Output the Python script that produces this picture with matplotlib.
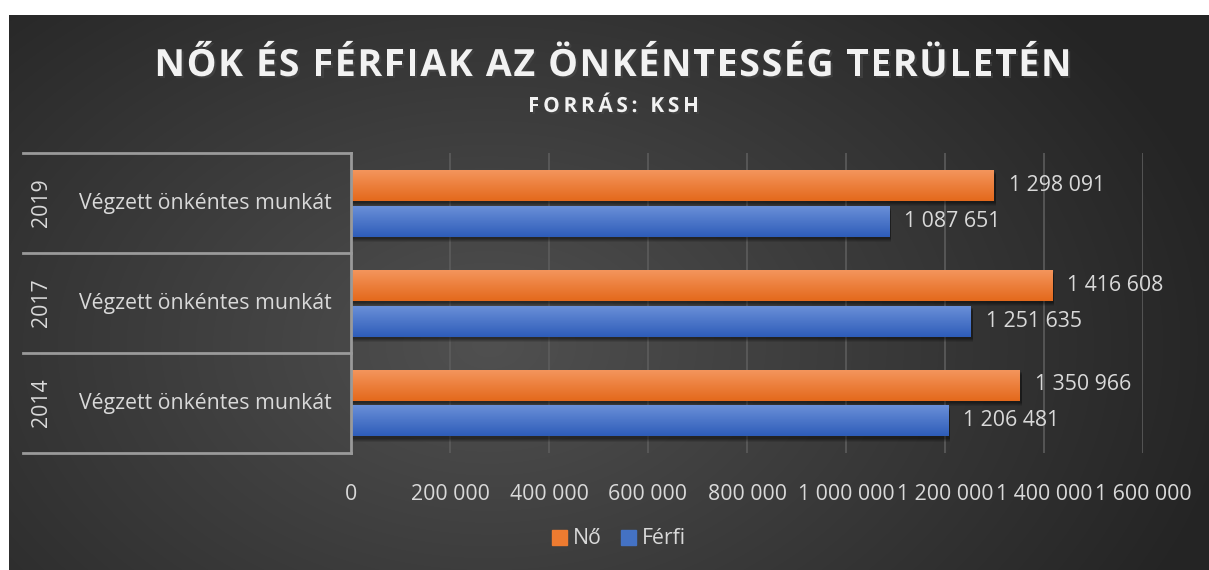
import numpy as np
import matplotlib
matplotlib.use("Agg")
import matplotlib.pyplot as plt
import matplotlib.patheffects as pe
from matplotlib.font_manager import FontProperties
from matplotlib.lines import Line2D
from matplotlib.patches import Patch

# data (bottom to top)
years = ["2014", "2017", "2019"]
category = "Végzett önkéntes munkát"
no_values = [1350966, 1416608, 1298091]
ferfi_values = [1206481, 1251635, 1087651]
series_names = ["Nő", "Férfi"]
xticks = [0, 200000, 400000, 600000, 800000, 1000000, 1200000, 1400000, 1600000]

W, H = 1209, 570
TXT = "#d9d9d9"
LABEL_FONT = "Open Sans"
FS = 15.3


def fmt(v):
    return f"{v:,}".replace(",", " ")


fig = plt.figure(figsize=(W / 100, H / 100), dpi=100, facecolor="white")

# background with radial gradient
bg = fig.add_axes([9 / W, 0, 1 - 9 / W, 1 - 15 / H], zorder=-5)
yy, xx = np.mgrid[0:555, 0:1200]
r = np.sqrt(((xx - 480) / 760.0) ** 2 + ((yy - 330) / 520.0) ** 2)
r = np.clip(r, 0, 1)
c0 = np.array([0x50, 0x50, 0x50]) / 255
c1 = np.array([0x24, 0x24, 0x24]) / 255
img = c0[None, None, :] * (1 - r[..., None]) + c1[None, None, :] * r[..., None]
bg.imshow(img, aspect="auto", interpolation="bilinear")
bg.axis("off")

ax = fig.add_axes([351 / W, 1 - 453 / H, 792 / W, 300 / H])
ax.set_facecolor("none")

y = np.arange(len(years))
h = 0.31
off = 0.18


def grad_bar(yc, v, top, bottom):
    g = np.linspace(0, 1, 50)[:, None, None]
    t = np.array(matplotlib.colors.to_rgb(top))
    b = np.array(matplotlib.colors.to_rgb(bottom))
    arr = t * (1 - g) + b * g
    # soft shadow below the bar
    for k, a in [(0.05, 0.10), (0.04, 0.12), (0.03, 0.15), (0.02, 0.15)]:
        ax.barh(yc - k, v + 4000, h, color="black", alpha=a, zorder=2, lw=0)
    ax.imshow(arr, extent=[0, v, yc - h / 2, yc + h / 2], aspect="auto",
              zorder=3, interpolation="bilinear")


for i in range(len(years)):
    grad_bar(y[i] + off, no_values[i], "#f4955c", "#e4691c")
    grad_bar(y[i] - off, ferfi_values[i], "#6a8fd8", "#2e5db9")
    ax.text(no_values[i] + 15 * 1600000 / 792, y[i] + off, fmt(no_values[i]),
            va="center", ha="left", color=TXT, fontsize=FS, family=LABEL_FONT, zorder=4)
    ax.text(ferfi_values[i] + 15 * 1600000 / 792, y[i] - off, fmt(ferfi_values[i]),
            va="center", ha="left", color=TXT, fontsize=FS, family=LABEL_FONT, zorder=4)

ax.set_xlim(0, 1600000)
ax.set_ylim(-0.5, len(years) - 0.5)
ax.set_xticks(xticks)
ax.set_xticklabels([fmt(t) for t in xticks], color=TXT, fontsize=FS, family=LABEL_FONT)
ax.tick_params(axis="x", length=0, pad=22)
ax.set_yticks([])
ax.grid(axis="x", color="#5c5c5c", lw=1.2, zorder=0)
for s in ["top", "right", "bottom"]:
    ax.spines[s].set_visible(False)
ax.spines["left"].set_color("#9a9a9a")
ax.spines["left"].set_linewidth(2)
ax.spines["left"].set_zorder(5)

# multi-level category axis
tr = ax.get_yaxis_transform()
for b in np.arange(-0.5, len(years), 1.0):
    ax.add_line(Line2D([-0.414, 0], [b, b], transform=tr, color="#9a9a9a",
                       lw=2, clip_on=False, zorder=5))
for i, yr in enumerate(years):
    ax.text(-0.1843, y[i], category, transform=tr, ha="center", va="center",
            color=TXT, fontsize=FS, family=LABEL_FONT)
    ax.text(-0.3914, y[i], yr, transform=tr, ha="center", va="center",
            rotation=90, color=TXT, fontsize=FS, family=LABEL_FONT)

# title with letter spacing
rend = fig.canvas.get_renderer()


def char_w(ch, prop):
    if ch == " ":
        a = rend.get_text_width_height_descent("a a", prop, False)[0]
        b = rend.get_text_width_height_descent("aa", prop, False)[0]
        return a - b
    return rend.get_text_width_height_descent(ch, prop, False)[0]


def spaced_text(s, xc, x_width, y_base, size):
    prop = FontProperties(family="Open Sans", weight="bold", size=size)
    ws = [char_w(ch, prop) for ch in s]
    sp = (x_width - sum(ws)) / (len(s) - 1)
    x = xc - x_width / 2
    for ch, w in zip(s, ws):
        if ch != " ":
            t = fig.text(x / W, 1 - y_base / H, ch, ha="left", va="baseline",
                         fontproperties=prop, color="#f2f2f2")
            t.set_path_effects([pe.SimplePatchShadow(offset=(1.5, -1.5), alpha=0.6),
                                pe.Normal()])
        x += w + sp


spaced_text("NŐK ÉS FÉRFIAK AZ ÖNKÉNTESSÉG TERÜLETÉN", 613, 917, 76, 27)
spaced_text("FORRÁS: KSH", 613.5, 171, 112, 15)

# legend
handles = [Patch(color="#ee7b30"), Patch(color="#4472c4")]
leg = fig.legend(handles, series_names, loc="center", bbox_to_anchor=(619 / W, 1 - 539 / H),
                 ncol=2, frameon=False, handlelength=0.7, handleheight=0.7,
                 handletextpad=0.3, columnspacing=0.9,
                 prop=FontProperties(family=LABEL_FONT, size=FS))
for t in leg.get_texts():
    t.set_color(TXT)

fig.savefig("out.png", dpi=100, facecolor="white")
